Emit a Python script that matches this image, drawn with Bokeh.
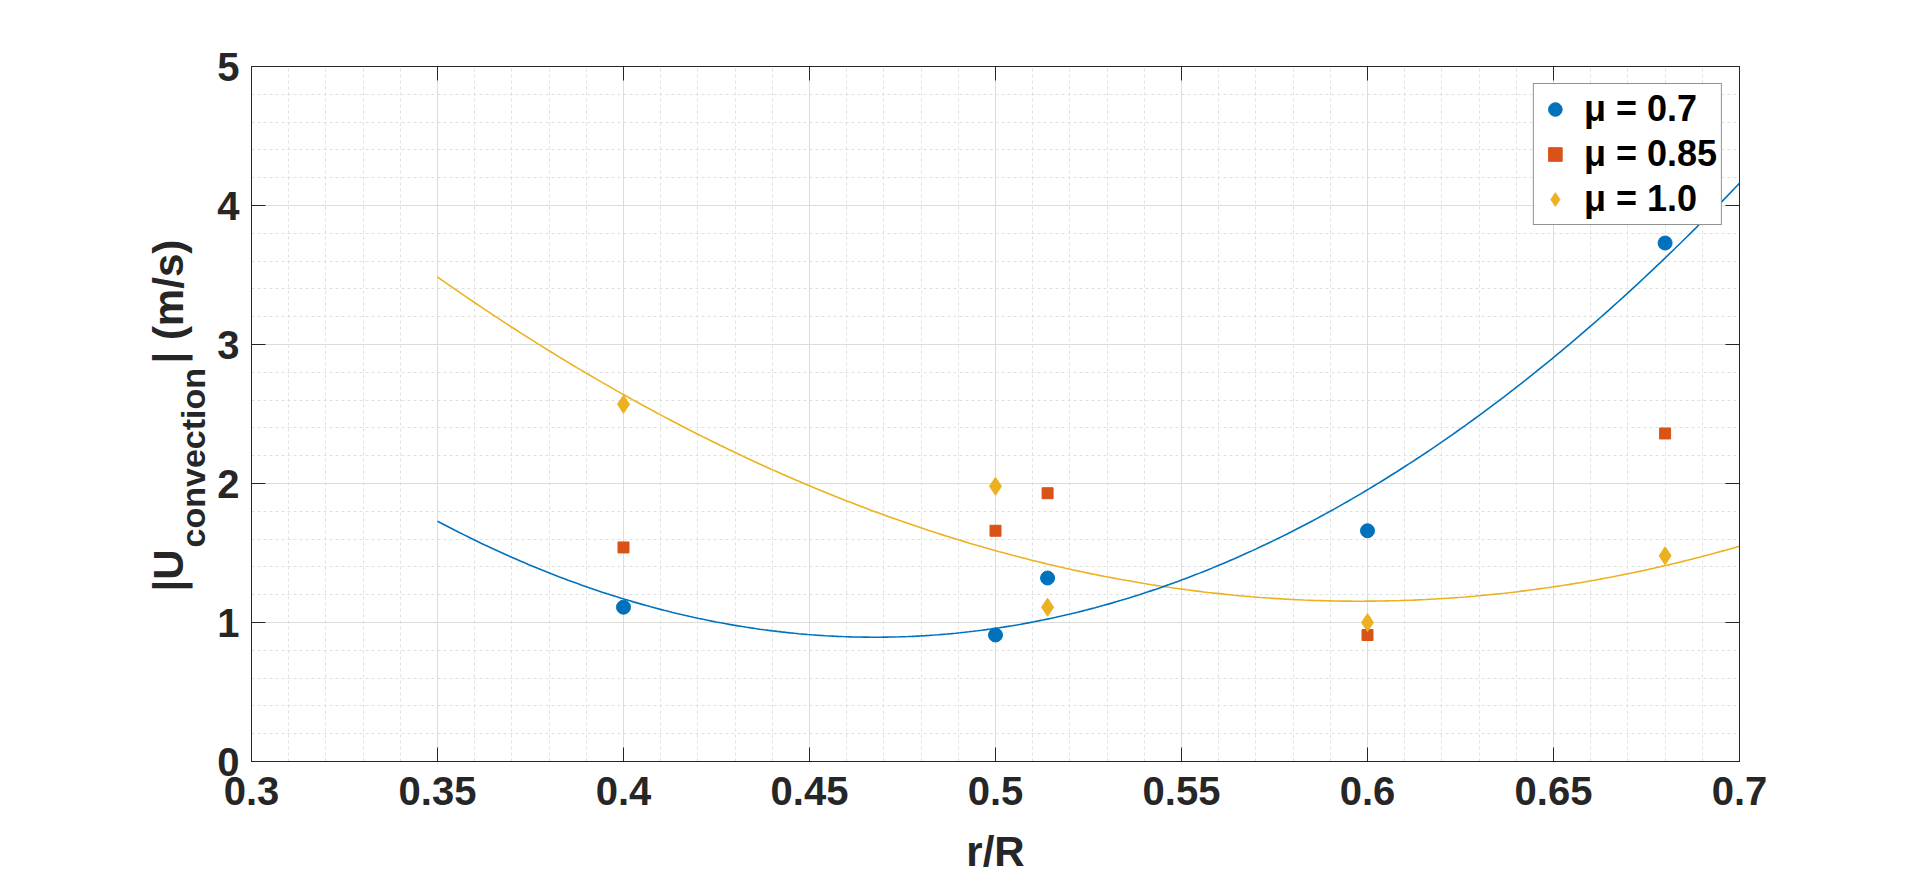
import numpy as np
from bokeh.plotting import figure
from bokeh.layouts import row
from bokeh.models import (FixedTicker, LinearAxis, Legend, LegendItem,
                          Range1d, CustomJSTickFormatter)
from bokeh.core.properties import value
from bokeh.embed import file_html
from bokeh.resources import INLINE

# ---- data ----
r_over_R = [0.4, 0.5, 0.514, 0.6, 0.68]
u_mu_070 = [1.11, 0.91, 1.32, 1.66, 3.73]
u_mu_085 = [1.54, 1.66, 1.93, 0.91, 2.36]
u_mu_100 = [2.57, 1.98, 1.11, 1.00, 1.48]
series_labels = ["\u03bc = 0.7", "\u03bc = 0.85", "\u03bc = 1.0"]
fit_range = [0.35, 0.70]

x_ticks = [0.3, 0.35, 0.4, 0.45, 0.5, 0.55, 0.6, 0.65, 0.7]
x_tick_labels = ["0.3", "0.35", "0.4", "0.45", "0.5", "0.55", "0.6", "0.65", "0.7"]
y_ticks = [0, 1, 2, 3, 4, 5]
y_tick_labels = ["0", "1", "2", "3", "4", "5"]
x_minor = [round(0.30 + 0.01 * i, 3) for i in range(41)]
y_minor = [round(0.2 * i, 2) for i in range(26)]

x_label = "r/R"
y_label_parts = ["|U", "convection", "| (m/s)"]

BLUE = "#0072BD"
ORANGE = "#D95319"
YELLOW = "#EDB120"
AX = "#262626"
FONT = "Liberation Sans"

H = 877          # total height of both panels
LEFT_W = 214     # width of the panel holding the y-axis title

p = figure(frame_width=1488, frame_height=695,
           x_range=Range1d(0.3, 0.7), y_range=Range1d(0, 5),
           output_backend="svg", toolbar_location=None,
           min_border_left=250 - LEFT_W, min_border_right=165,
           min_border_top=66, min_border_bottom=H - 66 - 695,
           background_fill_color="white", border_fill_color="white")
p.outline_line_color = AX
p.outline_line_width = 1

xt = FixedTicker(ticks=x_ticks, minor_ticks=x_minor)
yt = FixedTicker(ticks=y_ticks, minor_ticks=y_minor)

xax = p.xaxis[0]
xax.ticker = xt
xax.formatter = CustomJSTickFormatter(args=dict(labels=x_tick_labels),
                                      code="return labels[index];")
yax = p.yaxis[0]
yax.ticker = yt
yax.formatter = CustomJSTickFormatter(args=dict(labels=y_tick_labels),
                                      code="return labels[index];")

for ax in (xax, yax):
    ax.major_label_text_font = FONT
    ax.major_label_text_font_style = "bold"
    ax.major_label_text_font_size = "40px"
    ax.major_label_text_color = AX
    ax.major_tick_in = 14
    ax.major_tick_out = 0
    ax.minor_tick_in = 0
    ax.minor_tick_out = 0
    ax.axis_line_color = AX
    ax.major_tick_line_color = AX

xax.major_label_standoff = 15
yax.major_label_standoff = 12
xax.axis_label = x_label
xax.axis_label_text_font = FONT
xax.axis_label_text_font_style = "bold"
xax.axis_label_text_font_size = "42px"
xax.axis_label_text_color = AX
xax.axis_label_standoff = 20

# box axes (top / right) with inward ticks, no labels
for side, tk in (("above", xt), ("right", yt)):
    a = LinearAxis(ticker=tk,
                   formatter=CustomJSTickFormatter(code="return '';"),
                   major_label_text_font_size="1px",
                   major_tick_in=14, major_tick_out=0,
                   minor_tick_in=0, minor_tick_out=0,
                   axis_line_color=AX, major_tick_line_color=AX)
    p.add_layout(a, side)

# grids
for g in (p.xgrid, p.ygrid):
    g.grid_line_color = "#dcdcdc"
    g.grid_line_width = 1
    g.minor_grid_line_color = "#e0e0e0"
    g.minor_grid_line_dash = "3 3"
    g.minor_grid_line_width = 1

# quadratic fits (as in the original figure)
xf = np.linspace(fit_range[0], fit_range[1], 300)
c070 = np.polyfit(r_over_R, u_mu_070, 2)
c100 = np.polyfit(r_over_R, u_mu_100, 2)
p.line(xf, np.polyval(c100, xf), line_color=YELLOW, line_width=1.6)
p.line(xf, np.polyval(c070, xf), line_color=BLUE, line_width=1.6)

r1 = p.scatter(r_over_R, u_mu_070, marker="circle", size=14,
               fill_color=BLUE, line_color=BLUE)
r2 = p.scatter(r_over_R, u_mu_085, marker="square", size=11,
               fill_color=ORANGE, line_color=ORANGE)
r3 = p.scatter(r_over_R, u_mu_100, marker="diamond", size=18,
               fill_color=YELLOW, line_color=YELLOW)

legend = Legend(items=[LegendItem(label=series_labels[0], renderers=[r1]),
                       LegendItem(label=series_labels[1], renderers=[r2]),
                       LegendItem(label=series_labels[2], renderers=[r3])],
                location="top_right", margin=17, padding=4, spacing=3,
                label_text_font=FONT, label_text_font_style="bold",
                label_text_font_size="36px", label_text_color="black",
                glyph_width=34, glyph_height=34, label_height=34,
                label_standoff=12,
                border_line_color=AX, border_line_width=1,
                background_fill_color="white", background_fill_alpha=1)
p.add_layout(legend)

# ---- left panel: y axis title with subscript ----
# its frame is aligned with the main frame, so it shares the y range
pl = figure(width=LEFT_W, height=H, x_range=Range1d(0, LEFT_W),
            y_range=p.y_range, min_border=0,
            x_axis_location=None, y_axis_location=None,
            toolbar_location=None, output_backend="svg",
            background_fill_color="white", border_fill_color="white")
pl.outline_line_color = None
for g in pl.grid:
    g.visible = False

common = dict(angle=np.pi / 2, text_font=value(FONT),
              text_font_style="bold", text_color=AX,
              text_align="left", text_baseline="alphabetic")
pl.text(x=[168], y=[1.223], text=[y_label_parts[0]],
        text_font_size="42px", **common)
pl.text(x=[192], y=[1.540], text=[y_label_parts[1]],
        text_font_size="34px", **common)
pl.text(x=[168], y=[2.863], text=[y_label_parts[2]],
        text_font_size="42px", **common)

layout = row(pl, p)
open("out.html", "w").write(file_html(layout, INLINE))
